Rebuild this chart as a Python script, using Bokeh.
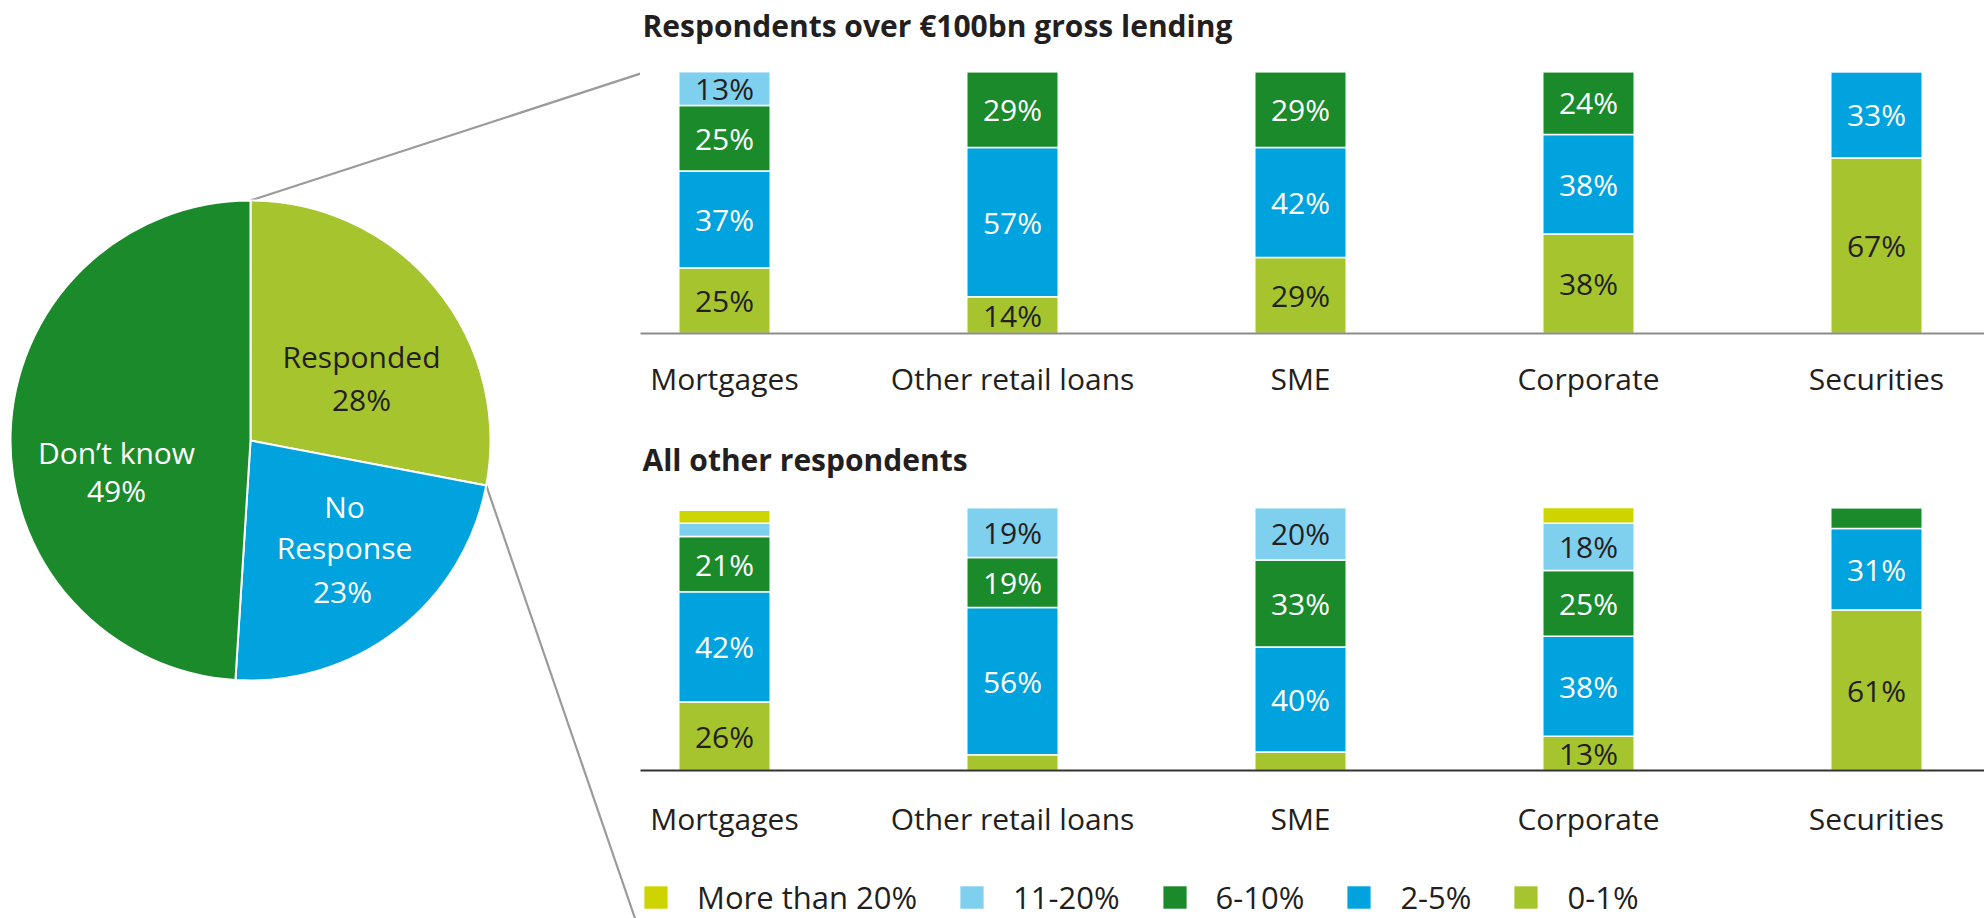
import numpy as np
from bokeh.plotting import figure
from bokeh.models import ColumnDataSource, Range1d, FixedTicker, Legend, LegendItem
from bokeh.layouts import row, column
from bokeh.core.properties import value
from bokeh.embed import file_html
from bokeh.resources import INLINE

# ---------------- data ----------------
pie_labels = ["Responded", "No Response", "Don\u2019t know"]
pie_values = [28, 23, 49]

categories = ["Mortgages", "Other retail loans", "SME", "Corporate", "Securities"]
bands = ["0-1%", "2-5%", "6-10%", "11-20%", "More than 20%"]

panel_titles = ["Respondents over \u20ac100bn gross lending", "All other respondents"]

# Respondents over EUR100bn gross lending (% of respondents)
large_0_1 = [25, 14, 29, 38, 67]
large_2_5 = [37, 57, 42, 38, 33]
large_6_10 = [25, 29, 29, 24, 0]
large_11_20 = [13, 0, 0, 0, 0]
large_over_20 = [0, 0, 0, 0, 0]

# All other respondents (% of respondents)
other_0_1 = [26, 6, 7, 13, 61]
other_2_5 = [42, 56, 40, 38, 31]
other_6_10 = [21, 19, 33, 25, 8]
other_11_20 = [5, 19, 20, 18, 0]
other_over_20 = [5, 0, 0, 6, 0]

# ---------------- style ----------------
FONT = "Open Sans"
DARK = "#231F20"
band_colors = ["#A5C42E", "#00A3DD", "#1B8A2B", "#7FCFEE", "#CDD400"]
band_text_colors = [DARK, "white", "white", DARK, DARK]
pie_colors = ["#A5C42E", "#00A3DD", "#1B8A2B"]
pie_text_colors = [DARK, "white", "white"]
CONNECTOR = "#9B9B9B"

# ---------------- layout (pixels) ----------------
LEFT_MARGIN = 8
PIE_W, TOTAL_H = 632, 918
RIGHT_W = 1344
R_PX = 240                      # pie radius in px
PIE_CX, PIE_CY = 242, 440       # pie centre inside its figure (from left, from top)
SLOT_PX = 288                   # distance between category centres
FIRST_PX = 84                   # first category centre from frame left
BAR_PX = 91.5
LABEL_SIZE = "30px"
TOP_H, BOTTOM_H, LEGEND_H = 420, 442, 56

# label line offsets from pie centre (px, right / up)
pie_label_offsets = [
    [(111, 84), (111, 41)],
    [(94, -66), (94, -107), (92, -151)],
    [(-134, -12), (-134, -50)],
]
# connector end points (px relative to pie centre, right / up)
top_connector_end = (418, 376)
bottom_connector_end = (399, -520)


def base_fig(w, h, xr, yr):
    p = figure(width=w, height=h, x_range=xr, y_range=yr,
               x_axis_location=None, y_axis_location=None,
               toolbar_location=None, output_backend="svg", min_border=0,
               outline_line_color=None, background_fill_color="white",
               border_fill_color="white")
    p.grid.visible = False
    return p


# ---------------- pie ----------------
pie = base_fig(PIE_W, TOTAL_H,
               Range1d(-PIE_CX / R_PX, (PIE_W - PIE_CX) / R_PX),
               Range1d(-(TOTAL_H - PIE_CY) / R_PX, PIE_CY / R_PX))

fr = np.array(pie_values, dtype=float) / sum(pie_values)
cum = np.concatenate([[0.0], np.cumsum(fr)])
start_a = np.pi / 2 - 2 * np.pi * cum[:-1]
end_a = np.pi / 2 - 2 * np.pi * cum[1:]

# connectors: from the top of the pie, and from the end of the "Responded" slice
bx, by = np.cos(end_a[0]), np.sin(end_a[0])
pie.segment(x0=[0.0, bx], y0=[1.0, by],
            x1=[top_connector_end[0] / R_PX, bottom_connector_end[0] / R_PX],
            y1=[top_connector_end[1] / R_PX, bottom_connector_end[1] / R_PX],
            line_color=CONNECTOR, line_width=2.2)

pie.wedge(x=0, y=0, radius=1, start_angle=list(start_a), end_angle=list(end_a),
          direction="clock", fill_color=pie_colors, line_color="white", line_width=2)

px_, py_, pt_, pc_ = [], [], [], []
for i, lab in enumerate(pie_labels):
    lines = (lab.split(" ") if i == 1 else [lab]) + [f"{pie_values[i]}%"]
    for line, (ox, oy) in zip(lines, pie_label_offsets[i]):
        px_.append(ox / R_PX)
        py_.append(oy / R_PX)
        pt_.append(line)
        pc_.append(pie_text_colors[i])
pie.text(x="x", y="y", text="t", text_color="c",
         source=ColumnDataSource(dict(x=px_, y=py_, t=pt_, c=pc_)),
         text_align="center", text_baseline="middle",
         text_font=value(FONT), text_font_size=LABEL_SIZE)


# ---------------- bar panels ----------------
def bar_panel(title, series, height, frame_bottom, hundred_px, title_px,
              axis_color, standoff):
    ppu = (frame_bottom - hundred_px) / 100.0
    x0 = -FIRST_PX / SLOT_PX
    xr = Range1d(x0, x0 + RIGHT_W / SLOT_PX)
    yr = Range1d(0, frame_bottom / ppu)
    p = figure(width=RIGHT_W, height=height, x_range=xr, y_range=yr,
               y_axis_location=None, toolbar_location=None, output_backend="svg",
               min_border_left=0, min_border_right=0, min_border_top=0,
               min_border_bottom=height - frame_bottom,
               outline_line_color=None)
    p.grid.visible = False

    data = dict(x=list(range(len(categories))))
    for b, s in zip(bands, series):
        data[b] = s
    src = ColumnDataSource(data)
    p.vbar_stack(bands, x="x", width=BAR_PX / SLOT_PX, color=band_colors,
                 source=src, line_color="white", line_width=1.5)

    lx, ly, lt, lc = [], [], [], []
    for i in range(len(categories)):
        bottom = 0
        for j, s in enumerate(series):
            v = s[i]
            if v >= 10:
                lx.append(i)
                ly.append(bottom + v / 2)
                lt.append(f"{v}%")
                lc.append(band_text_colors[j])
            bottom += v
    p.text(x="x", y="y", text="t", text_color="c",
           source=ColumnDataSource(dict(x=lx, y=ly, t=lt, c=lc)),
           text_align="center", text_baseline="middle",
           text_font=value(FONT), text_font_size=LABEL_SIZE)

    p.text(x=[x0 + 2 / SLOT_PX], y=[(frame_bottom - title_px) / ppu], text=[title],
           text_align="left", text_baseline="middle", text_color=DARK,
           text_font=value(FONT), text_font_style="bold", text_font_size="30px")

    ax = p.xaxis[0]
    ax.ticker = FixedTicker(ticks=list(range(len(categories))))
    ax.major_label_overrides = {i: c for i, c in enumerate(categories)}
    ax.axis_line_color = axis_color
    ax.axis_line_width = 2
    ax.major_tick_line_color = None
    ax.minor_tick_line_color = None
    ax.major_tick_out = 0
    ax.major_tick_in = 0
    ax.minor_tick_out = 0
    ax.minor_tick_in = 0
    ax.major_label_standoff = standoff
    ax.major_label_text_font = FONT
    ax.major_label_text_font_size = LABEL_SIZE
    ax.major_label_text_color = DARK
    return p


large = [large_0_1, large_2_5, large_6_10, large_11_20, large_over_20]
other = [other_0_1, other_2_5, other_6_10, other_11_20, other_over_20]

top = bar_panel(panel_titles[0], large, TOP_H, 333, 71, 24.5, "#8C8C8C", 24)
bottom = bar_panel(panel_titles[1], other, BOTTOM_H, 350, 87, 39, "#333333", 27)

# ---------------- legend ----------------
lf = base_fig(RIGHT_W, LEGEND_H, Range1d(0, 1), Range1d(0, 1))
items = []
for b, c in reversed(list(zip(bands, band_colors))):
    # zero-size proxy glyph, only used to give the legend entry its colour
    r = lf.vbar(x=[0.5], top=[0.0], bottom=[0.0], width=0.0,
                fill_color=c, line_color=None)
    items.append(LegendItem(label=b, renderers=[r]))
leg = Legend(items=items, orientation="horizontal", location=(1, 0),
             glyph_width=29, glyph_height=28, label_standoff=27, spacing=40,
             padding=0, margin=0, border_line_color=None, background_fill_alpha=0,
             label_text_font=FONT, label_text_font_size="31px",
             label_text_color=DARK, label_text_baseline="middle")
lf.add_layout(leg)

layout = row(pie, column(top, bottom, lf), margin=(0, 0, 0, LEFT_MARGIN))
open("out.html", "w").write(file_html(layout, INLINE))
